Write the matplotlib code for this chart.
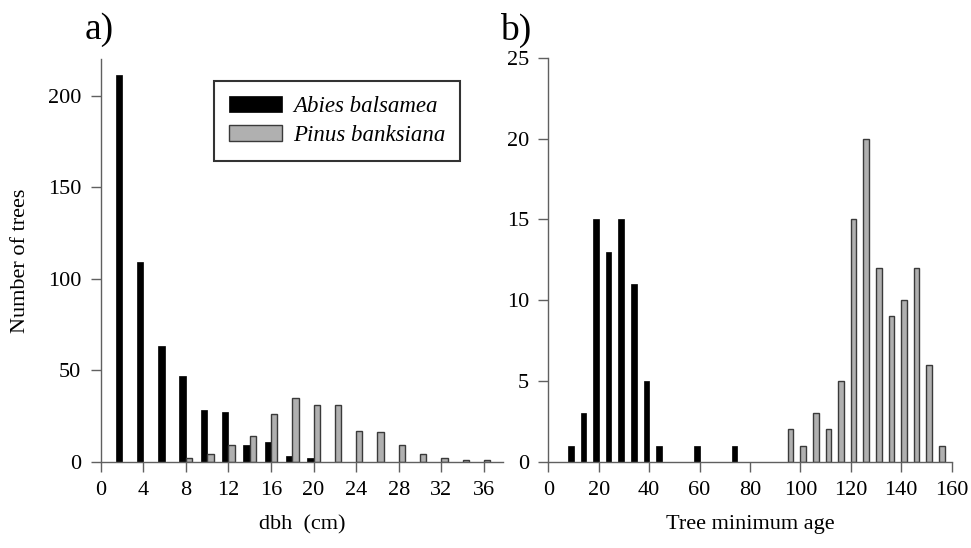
import matplotlib
matplotlib.use("Agg")
import matplotlib.pyplot as plt
import numpy as np

plt.rcParams['font.family'] = ['Liberation Serif', 'DejaVu Serif']

# Panel a: dbh classes (cm)
dbh_abies_x = [2, 4, 6, 8, 10, 12, 14, 16, 18, 20]
dbh_abies_n = [211, 109, 63, 47, 28, 27, 9, 11, 3, 2]
dbh_pinus_x = [8, 10, 12, 14, 16, 18, 20, 22, 24, 26, 28, 30, 32, 34, 36]
dbh_pinus_n = [2, 4, 9, 14, 26, 35, 31, 31, 17, 16, 9, 4, 2, 1, 1]

# Panel b: tree minimum age classes
age_abies_x = [10, 15, 20, 25, 30, 35, 40, 45, 60, 75]
age_abies_n = [1, 3, 15, 13, 15, 11, 5, 1, 1, 1]
age_pinus_x = [95, 100, 105, 110, 115, 120, 125, 130, 135, 140, 145, 150, 155]
age_pinus_n = [2, 1, 3, 2, 5, 15, 20, 12, 9, 10, 12, 6, 1]

xticks_a = list(range(0, 37, 4))
yticks_a = [0, 50, 100, 150, 200]
xticks_b = list(range(0, 161, 20))
yticks_b = [0, 5, 10, 15, 20, 25]

BLACK = '#000000'
GRAY = '#b0b0b0'
EDGE = '#3a3a3a'
SPINE = '#606060'
FS = 16

fig = plt.figure(figsize=(9.71, 5.48), dpi=100)
axa = fig.add_axes([0.1037, 0.1575, 0.4143, 0.7349])
axb = fig.add_axes([0.5647, 0.1575, 0.4154, 0.7367])

# panel a
wa = 0.6
axa.bar(np.array(dbh_abies_x) - wa / 2, dbh_abies_n, width=wa, color=BLACK,
        edgecolor=BLACK, linewidth=0.5, label='Abies balsamea')
axa.bar(np.array(dbh_pinus_x) + wa / 2, dbh_pinus_n, width=wa, color=GRAY,
        edgecolor=EDGE, linewidth=1.0, label='Pinus banksiana')
axa.set_xlim(0, 37.8)
axa.set_ylim(0, 220)
axa.set_xticks(xticks_a)
axa.set_yticks(yticks_a)
axa.set_xlabel('dbh  (cm)', fontsize=FS, labelpad=11)
axa.set_ylabel('Number of trees', fontsize=FS, labelpad=13)
leg = axa.legend(loc='upper left', bbox_to_anchor=(0.282, 0.945),
                 prop={'style': 'italic', 'size': 16.5}, frameon=True, fancybox=False,
                 edgecolor='black', handlelength=2.3, handleheight=0.65,
                 borderpad=0.65, labelspacing=0.35, handletextpad=0.5,
                 borderaxespad=0)
leg.get_frame().set_linewidth(1.5)

# panel b
wb = 2.2
axb.bar(np.array(age_abies_x) - wb / 2, age_abies_n, width=wb, color=BLACK,
        edgecolor=BLACK, linewidth=0.5)
axb.bar(np.array(age_pinus_x) + wb / 2, age_pinus_n, width=wb, color=GRAY,
        edgecolor=EDGE, linewidth=1.0)
axb.set_xlim(0, 160)
axb.set_ylim(0, 25)
axb.set_xticks(xticks_b)
axb.set_yticks(yticks_b)
axb.set_xlabel('Tree minimum age', fontsize=FS, labelpad=11)

for ax in (axa, axb):
    for s in ('top', 'right'):
        ax.spines[s].set_visible(False)
    for s in ('left', 'bottom'):
        ax.spines[s].set_color(SPINE)
        ax.spines[s].set_linewidth(1.0)
    ax.tick_params(axis='both', direction='out', length=7, width=1.0,
                   color=SPINE, labelsize=FS, pad=7)

fig.text(0.0875, 0.945, 'a)', fontsize=27, va='center', ha='left')
fig.text(0.515, 0.945, 'b)', fontsize=27, va='center', ha='left')

fig.savefig('out.png', dpi=100)
